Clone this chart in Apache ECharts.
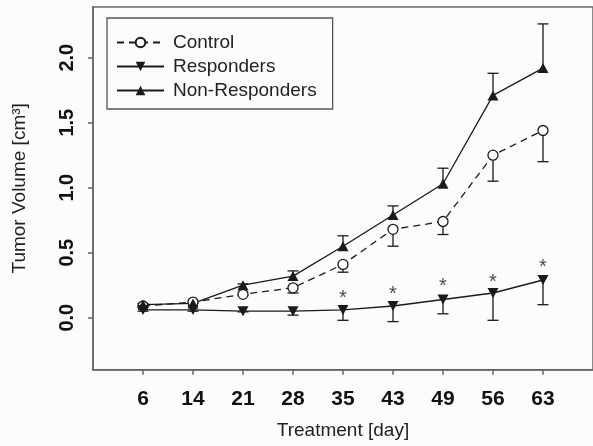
<!DOCTYPE html>
<html>
<head>
<meta charset="utf-8">
<script src="https://cdn.jsdelivr.net/npm/echarts@6/dist/echarts.min.js"></script>
<style>
  html, body { margin: 0; padding: 0; background: #fbfcfe; }
  #chart { width: 593px; height: 446px; }
</style>
</head>
<body>
<div id="chart"></div>
<script>
// treatment days (evenly spaced on the axis)
const days = ['6', '14', '21', '28', '35', '43', '49', '56', '63'];
const yTicks = [0, 0.5, 1.0, 1.5, 2.0];

// Control: mean and lower end of error bar
const controlMean = [0.09, 0.12, 0.18, 0.23, 0.41, 0.68, 0.74, 1.25, 1.44];
const controlLow = [0.08, 0.11, 0.17, 0.19, 0.35, 0.55, 0.64, 1.05, 1.20];

// Responders: mean and lower end of error bar
const respMean = [0.06, 0.06, 0.05, 0.05, 0.06, 0.09, 0.14, 0.19, 0.29];
const respLow = [0.05, 0.05, 0.045, 0.02, -0.02, -0.03, 0.03, -0.02, 0.10];

// Non-Responders: mean and upper end of error bar
const nonRespMean = [0.10, 0.11, 0.25, 0.32, 0.55, 0.79, 1.03, 1.71, 1.92];
const nonRespHigh = [0.11, 0.12, 0.26, 0.36, 0.63, 0.86, 1.15, 1.88, 2.26];

// significance stars (null = none)
const stars = [null, null, null, null, 0.175, 0.21, 0.27, 0.30, 0.42];

const ink = '#1a1a1a';
const font = 'Liberation Sans, Arial, sans-serif';

function pts(values) {
    return values.map((v, i) => [i, v]);
}

function errorBars(means, ends) {
    return {
        type: 'custom',
        silent: true,
        z: 1,
        data: means.map((m, i) => [i, m, ends[i]]),
        renderItem: function(params, api) {
            const a = api.coord([api.value(0), api.value(1)]);
            const b = api.coord([api.value(0), api.value(2)]);
            const style = { stroke: ink, lineWidth: 1.3 };
            return {
                type: 'group',
                children: [
                    { type: 'line', shape: { x1: a[0], y1: a[1], x2: b[0], y2: b[1] }, style: style },
                    { type: 'line', shape: { x1: b[0] - 5.5, y1: b[1], x2: b[0] + 5.5, y2: b[1] }, style: style }
                ]
            };
        }
    };
}

const myChart = echarts.init(document.getElementById('chart'));

const option = {
    backgroundColor: '#fbfcfe',
    animation: false,
    grid: {
        left: 93,
        top: 7,
        width: 504,
        height: 362.7,
        show: true,
        borderColor: '#666',
        borderWidth: 1.5
    },
    legend: {
        data: ['Control', 'Responders', 'Non-Responders'],
        orient: 'vertical',
        left: 107,
        top: 18,
        padding: [15, 16, 9, 9],
        itemWidth: 47,
        itemHeight: 12,
        itemGap: 5,
        selectedMode: false,
        borderColor: '#555',
        borderWidth: 1.3,
        textStyle: { fontSize: 19, color: '#222', fontFamily: font, padding: [0, 0, 0, 4] }
    },
    xAxis: {
        type: 'value',
        min: -1,
        max: 9,
        interval: 1,
        name: 'Treatment [day]',
        nameLocation: 'middle',
        nameGap: 52,
        nameTextStyle: { fontSize: 19, color: '#222', fontFamily: font },
        axisLine: { onZero: false, lineStyle: { color: '#666', width: 1.5 } },
        axisTick: { length: 5, lineStyle: { color: '#666', width: 1.5 }, customValues: days.map((d, i) => i) },
        axisLabel: {
            customValues: days.map((d, i) => i),
            formatter: v => days[v],
            margin: 19,
            fontSize: 21,
            fontWeight: 'bold',
            color: '#111',
            fontFamily: font
        },
        splitLine: { show: false }
    },
    yAxis: {
        type: 'value',
        min: -0.4,
        max: 2.39,
        name: 'Tumor Volume [cm³]',
        nameLocation: 'middle',
        nameGap: 64,
        nameTextStyle: { fontSize: 19, color: '#222', fontFamily: font },
        axisLine: { show: true, onZero: false, lineStyle: { color: '#666', width: 1.5 } },
        axisTick: { show: true, length: 5, lineStyle: { color: '#666', width: 1.5 }, customValues: yTicks },
        axisLabel: {
            customValues: yTicks,
            formatter: v => v.toFixed(1),
            rotate: 90,
            margin: 16,
            fontSize: 20,
            fontWeight: 'bold',
            color: '#111',
            fontFamily: font
        },
        splitLine: { show: false }
    },
    series: [
        errorBars(controlMean, controlLow),
        errorBars(respMean, respLow),
        errorBars(nonRespMean, nonRespHigh),
        {
            name: 'Control',
            type: 'line',
            z: 3,
            data: pts(controlMean),
            symbol: 'circle',
            symbolSize: 10,
            showAllSymbol: true,
            lineStyle: { color: ink, width: 1.3, type: [7, 5] },
            itemStyle: { color: '#fff', borderColor: ink, borderWidth: 1.3 }
        },
        {
            name: 'Responders',
            type: 'line',
            z: 3,
            data: pts(respMean),
            symbol: 'triangle',
            symbolRotate: 180,
            symbolSize: [11, 10],
            showAllSymbol: true,
            lineStyle: { color: ink, width: 1.3 },
            itemStyle: { color: ink }
        },
        {
            name: 'Non-Responders',
            type: 'line',
            z: 3,
            data: pts(nonRespMean),
            symbol: 'triangle',
            symbolSize: [11, 10],
            showAllSymbol: true,
            lineStyle: { color: ink, width: 1.3 },
            itemStyle: { color: ink }
        },
        {
            type: 'scatter',
            silent: true,
            data: stars.map((v, i) => [i, v]).filter(p => p[1] !== null),
            symbolSize: 1,
            itemStyle: { color: 'transparent' },
            label: {
                show: true,
                position: 'inside',
                formatter: '*',
                offset: [0, 4],
                fontSize: 20,
                color: ink,
                fontFamily: font
            }
        }
    ]
};

option && myChart.setOption(option);
</script>
</body>
</html>
